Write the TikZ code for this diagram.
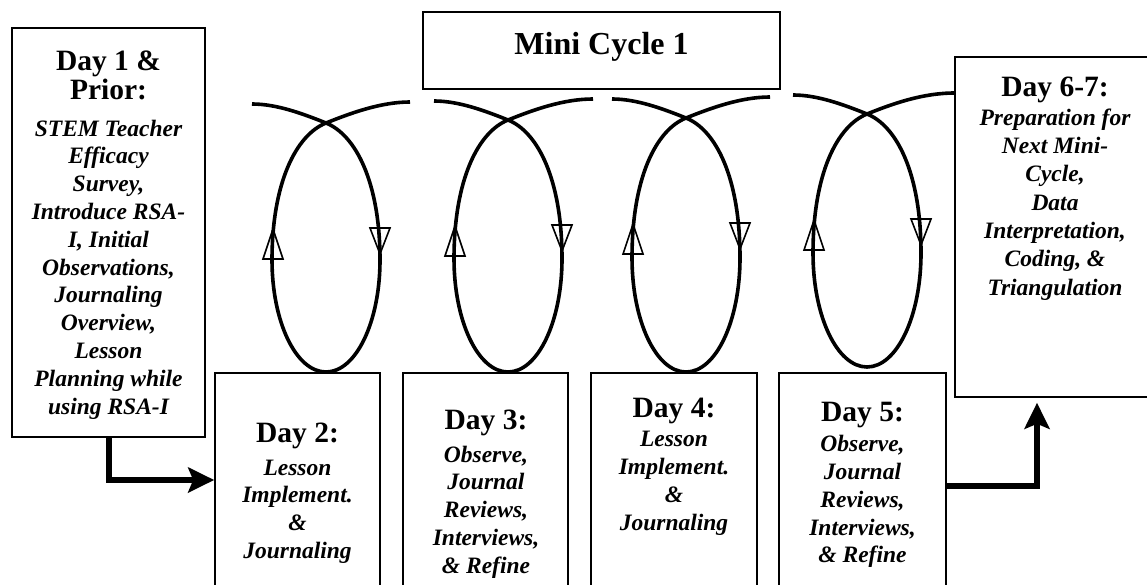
\documentclass[tikz,border=0pt]{standalone}
\usepackage{fontspec}
\setmainfont{Liberation Serif}
\usetikzlibrary{arrows.meta}
\newcommand\HdF{\fontsize{29.5}{30}\selectfont\bfseries\upshape}
\newcommand\BdF{\fontsize{23.5}{27.8}\selectfont\bfseries\itshape}
\begin{document}
\begin{tikzpicture}[x=1pt,y=-1pt,
  box/.style={draw, line width=1.6pt, inner sep=0pt},
  lbl/.style={align=center, inner sep=0pt, anchor=north, font=\BdF},
  loopln/.style={line width=3.6pt},
  tri/.style={line width=1.6pt, line join=miter},
  conn/.style={line width=6pt, -{Stealth[length=26pt,width=25pt,inset=5pt]}}]
\useasboundingbox (0,0) rectangle (1147,585);
\clip (0,0) rectangle (1147,585);
% boxes
\node[box, minimum width=193pt, minimum height=409pt] (d1) at (108.5,232.5) {};
\node[box, minimum width=357pt, minimum height=77pt] (mc) at (601.5,50.5) {};
\node[box, minimum width=165pt, minimum height=214pt] (d2) at (297.5,480) {};
\node[box, minimum width=165pt, minimum height=214pt] (d3) at (485.5,480) {};
\node[box, minimum width=166pt, minimum height=214pt] (d4) at (674,480) {};
\node[box, minimum width=167pt, minimum height=214pt] (d5) at (862.5,480) {};
\node[box, minimum width=200pt, minimum height=340pt] (d67) at (1055,227) {};
% texts
\node[inner sep=0pt, anchor=base, font=\fontsize{32}{33}\selectfont\bfseries] (mct) at (601.5,55) {Mini Cycle 1};
\node[lbl] (d1t) at (108.5,51) {{\HdF Day 1 \&}\\[1.3pt]{\HdF Prior:}\\[8.3pt]STEM Teacher\\Efficacy\\Survey,\\Introduce RSA-\\I, Initial\\Observations,\\Journaling\\Overview,\\Lesson\\Planning while\\using RSA-I};
\node[lbl] (d2t) at (297.5,423) {{\HdF Day 2:}\\[4.5pt]Lesson\\Implement.\\\&\\Journaling};
\node[lbl] (d3t) at (486,410) {{\HdF Day 3:}\\[4.5pt]Observe,\\Journal\\Reviews,\\Interviews,\\\& Refine};
\node[lbl] (d4t) at (674,398) {{\HdF Day 4:}\\[1.3pt]Lesson\\Implement.\\\&\\Journaling};
\node[lbl] (d5t) at (862.5,402) {{\HdF Day 5:}\\[2.3pt]Observe,\\Journal\\Reviews,\\Interviews,\\\& Refine};
\node[lbl] (d67t) at (1055,77) {{\HdF Day 6-7:}\\[0.8pt]Preparation for\\[0.5pt]Next Mini-\\[0.5pt]Cycle,\\[0.5pt]Data\\[0.5pt]Interpretation,\\[0.5pt]Coding, \&\\[0.5pt]Triangulation};
% loops
\foreach \c/\t/\b/\w in {326/123/372/84, 508/120/372/85, 686/118/372/84, 867/114/367/88}{
  \pgfmathsetmacro\m{\t+0.55*(\b-\t)}
  \pgfmathsetmacro\k{0.552*(\b-\m)}
  \draw[loopln] ({\c-74},{\t-19}) .. controls ({\c-50},{\t-19}) and ({\c-25},{\t-10}) .. (\c,\t)
     .. controls ({\c+30},{\t+12}) and ({\c+54},{\t+60}) .. ({\c+54},\m)
     .. controls ({\c+54},{\m+\k}) and ({\c+30},\b) .. (\c,\b)
     .. controls ({\c-30},\b) and ({\c-54},{\m+\k}) .. ({\c-54},\m)
     .. controls ({\c-54},{\t+60}) and ({\c-30},{\t+12}) .. (\c,\t)
     .. controls ({\c+25},{\t-10}) and ({\c+55},{\t-21}) .. ({\c+\w},{\t-21});
  \draw[tri] ({\c+44},{\t+105}) -- ({\c+64},{\t+105}) -- ({\c+54},{\t+131}) -- cycle;
  \draw[tri] ({\c-63},{\t+136}) -- ({\c-43},{\t+136}) -- ({\c-53},{\t+106}) -- cycle;
}
% connectors
\draw[conn] (d1.south) |- (d2.west);
\draw[conn] ([yshift=-6pt]d5.east) -| ([xshift=-18pt,yshift=-5pt]d67.south);
\end{tikzpicture}
\end{document}
